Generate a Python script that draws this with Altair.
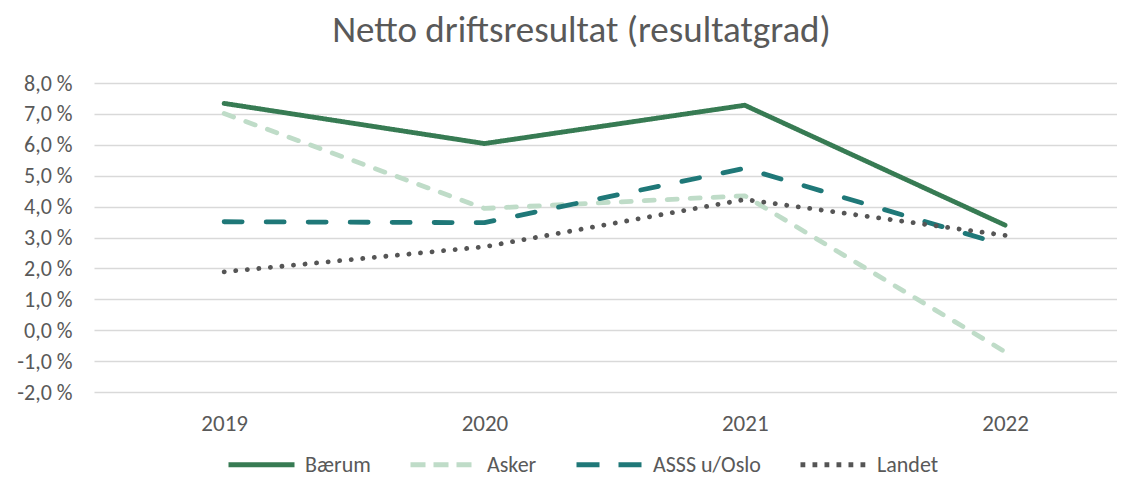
import altair as alt
import pandas as pd

years = [2019, 2020, 2021, 2022]
series_names = ["Bærum", "Asker", "ASSS u/Oslo", "Landet"]
baerum = [7.34, 6.04, 7.28, 3.40]
asker = [7.01, 3.94, 4.35, -0.70]
asss = [3.51, 3.48, 5.24, 2.75]
landet = [1.89, 2.70, 4.23, 3.07]
y_ticks = [-2, -1, 0, 1, 2, 3, 4, 5, 6, 7, 8]

colors = ["#377b53", "#bfdcc8", "#1f7878", "#555555"]
# dash patterns for the round-capped lines
line_dashes = [[1, 0], [10, 13], [18, 24], [0.1, 11.5]]
# the same look for the (butt-capped) legend samples
legend_dashes = [[1, 0], [15, 8], [23, 19], [4.8, 7.2]]

rows = []
for name, vals in zip(series_names, [baerum, asker, asss, landet]):
    for yr, v in zip(years, vals):
        rows.append({"year": yr, "value": v, "serie": name})
df = pd.DataFrame(rows)

FONT = "Calibri, Carlito, Lato, sans-serif"
TXT = "#595959"

ylabel = "(datum.value < 0 ? '-' : '') + replace(format(abs(datum.value), '.1f'), '.', ',') + ' %'"

x_enc = alt.X("year:Q",
              scale=alt.Scale(domain=[2018.5, 2022.43], nice=False, zero=False),
              axis=alt.Axis(values=years, format="d", title=None, grid=False, domain=False,
                            ticks=False, labelPadding=20, labelFontSize=23, labelColor=TXT,
                            labelFont=FONT, labelFlush=False))
y_enc = alt.Y("value:Q",
              scale=alt.Scale(domain=[-2, 8], nice=False, zero=False),
              axis=alt.Axis(values=y_ticks, labelExpr=ylabel, title=None, grid=True,
                            gridColor="#d9d9d9", gridWidth=1.5, domain=False, ticks=False,
                            labelPadding=22, labelFontSize=22, labelColor=TXT, labelFont=FONT))


def make_legend():
    return alt.Legend(title=None, orient="none", direction="horizontal",
                      legendX=132, legendY=346,
                      symbolType="stroke", symbolSize=4356,
                      symbolStrokeWidth=4.8, labelFontSize=22,
                      labelColor=TXT, labelFont=FONT, labelOffset=8,
                      columnPadding=29)


lines = alt.Chart(df).mark_line(strokeWidth=4.8, strokeCap="round", strokeJoin="round").encode(
    x=x_enc,
    y=y_enc,
    color=alt.Color("serie:N", sort=series_names,
                    scale=alt.Scale(domain=series_names, range=colors), legend=None),
    strokeDash=alt.StrokeDash("serie:N", sort=series_names,
                              scale=alt.Scale(domain=series_names, range=line_dashes),
                              legend=None),
)

legend_layer = alt.Chart(df).transform_filter("datum.value > 1000").mark_line(
    strokeWidth=4.8).encode(
    x=x_enc,
    y=y_enc,
    color=alt.Color("serie:N", sort=series_names,
                    scale=alt.Scale(domain=series_names, range=colors),
                    legend=make_legend()),
    strokeDash=alt.StrokeDash("serie:N", sort=series_names,
                              scale=alt.Scale(domain=series_names, range=legend_dashes),
                              legend=make_legend()),
)

chart = alt.layer(lines, legend_layer).resolve_scale(
    color="independent", strokeDash="independent"
).resolve_legend(
    color="independent", strokeDash="independent"
).properties(
    width=1023,
    height=309,
    padding={"left": 86, "top": 75, "right": 0, "bottom": 85},
    autosize=alt.AutoSizeParams(type="none"),
    title=alt.TitleParams("Netto driftsresultat (resultatgrad)", fontSize=37, font=FONT,
                          color=TXT, fontWeight="normal", anchor="middle", frame="group",
                          offset=22, dx=-24),
).configure_view(stroke=None)

chart.save("out.html", embed_options={"renderer": "svg", "actions": False})
